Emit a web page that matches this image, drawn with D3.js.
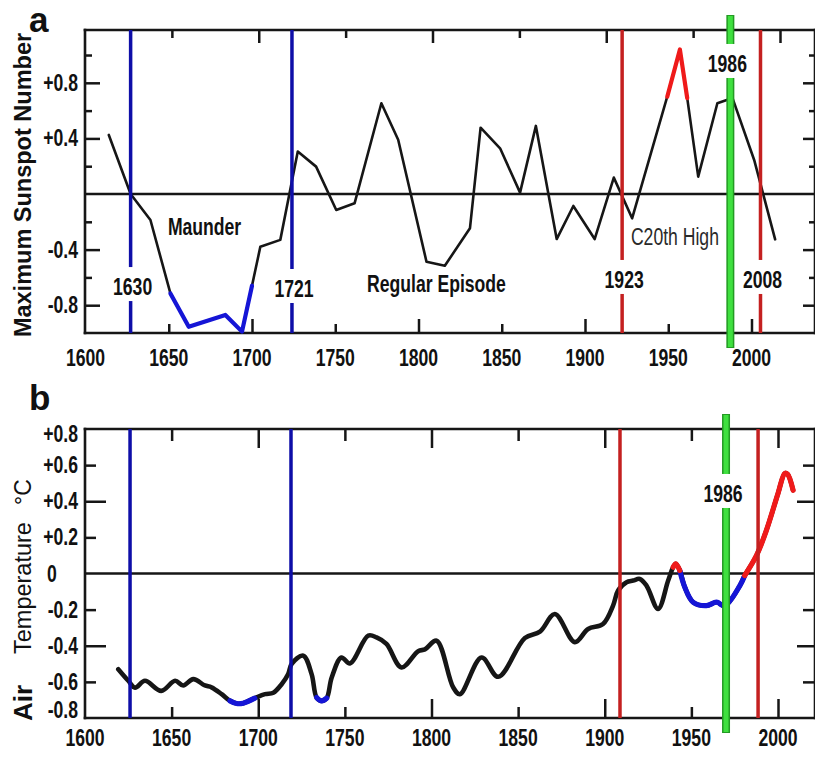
<!DOCTYPE html>
<html>
<head>
<meta charset="utf-8">
<script src="https://cdn.jsdelivr.net/npm/d3@7"></script>
<style>
  body { margin: 0; background: #fff; }
  svg { display: block; }
</style>
</head>
<body>
<svg id="chart" width="815" height="762"></svg>
<script>
// ---- panel a : maximum sunspot number (normalised) ----
const sunYears  = [1614, 1627.1, 1639, 1651, 1662, 1684, 1694, 1700, 1705, 1717, 1727.5, 1738.5, 1750.6, 1761.6,
                   1777.7, 1787.8, 1804.8, 1815.8, 1830.9, 1837.3, 1849, 1861, 1870.5, 1883, 1893, 1905.8,
                   1917.3, 1928.3, 1949.4, 1957, 1961.4, 1968, 1979.5, 1988.6, 2001.6, 2014.2];
const sunValues = [0.425, 0.0, -0.187, -0.715, -0.955, -0.87, -0.99, -0.66, -0.38, -0.33, 0.305, 0.197, -0.115, -0.067,
                   0.653, 0.39, -0.487, -0.516, -0.247, 0.477, 0.329, 0.01, 0.49, -0.324, -0.086, -0.324,
                   0.118, -0.175, 0.70, 1.04, 0.69, 0.125, 0.653, 0.69, 0.245, -0.326];
const sunBlue = [[1651, 1700]];
const sunRed  = [[1949.4, 1961.4]];

// ---- panel b : air temperature anomaly ----
const tempYears  = [1619.2, 1625, 1628.9, 1634.6, 1644, 1652, 1656.7, 1662.5, 1669.2, 1673, 1678.9, 1683.7,
                    1687.5, 1691.3, 1698, 1703.9, 1708.7, 1713.5, 1717.3, 1719.3, 1726, 1730.8, 1733.7, 1736.6,
                    1739.5, 1742.4, 1748, 1752.9, 1763.5, 1768.3, 1774, 1782.7, 1792.3, 1796.2, 1802.9, 1812.5,
                    1816.4, 1828.9, 1838.5, 1853.9, 1862.6, 1871.2, 1882.7, 1890.4, 1899, 1904.8, 1907.7, 1912.6,
                    1916.4, 1920.2, 1924.1, 1930.8, 1936.6, 1939.5, 1941, 1943.3, 1946.2, 1951, 1958.7, 1964.5,
                    1969.3, 1978, 1980.8, 1987.6, 1993.3, 2000, 2003.9, 2005.5, 2008.7];
const tempValues = [-0.53, -0.594, -0.632, -0.594, -0.65, -0.594, -0.62, -0.585, -0.62, -0.63, -0.668, -0.705,
                    -0.72, -0.718, -0.69, -0.668, -0.66, -0.613, -0.557, -0.50, -0.455, -0.557, -0.687, -0.705,
                    -0.69, -0.576, -0.465, -0.498, -0.344, -0.354, -0.39, -0.52, -0.43, -0.42, -0.372, -0.63,
                    -0.668, -0.465, -0.572, -0.357, -0.322, -0.224, -0.38, -0.307, -0.28, -0.178, -0.094, -0.048,
                    -0.039, -0.03, -0.067, -0.196, -0.039, 0.035, 0.054, 0.017, -0.076, -0.159, -0.178, -0.159,
                    -0.178, -0.067, -0.011, 0.10, 0.239, 0.443, 0.554, 0.55, 0.461];
const tempBlue = [[1683.7, 1698], [1733.7, 1739.5], [1943.3, 1980.8]];
const tempRed  = [[1939.5, 1943.3], [1980.8, 2008.7]];

// ---- marker lines (year positions as drawn in each panel) ----
const markerLabels = ["1630", "1721", "1923", "2008", "1986"];
const markerKinds  = ["blue", "blue", "red", "red", "green"];
const markerYearsA = [1627.1, 1724, 1922.3, 2005.4, 1987.3];
const markerYearsB = [1626, 1718.9, 1908.8, 1988.5, 1970];
const markerLabelA = [-0.727, -0.741, -0.676, -0.676, 0.878];   // baseline value of the label
const markerLabelB = [null, null, null, null, 0.396];

// ---- ticks ----
const xTickYears = [1600, 1650, 1700, 1750, 1800, 1850, 1900, 1950, 2000];
const xMajor = [1700, 1800, 1900, 2000];
const xMinor = [1650, 1750, 1850, 1950];
const yMajorA = [0.8, 0.4, -0.4, -0.8];
const yMajorLabelsA = ["+0.8", "+0.4", "-0.4", "-0.8"];
const yMinorA = [1.0, 0.6, 0.2, -0.2, -0.6];
const yTicksB = [0.8, 0.6, 0.4, 0.2, 0, -0.2, -0.4, -0.6, -0.8];
const yTickLabelsB = ["+0.8", "+0.6", "+0.4", "+0.2", "0", "-0.2", "-0.4", "-0.6", "-0.8"];
const yMajorB = [0.4, -0.4];
const yMinorB = [0.6, 0.2, -0.2, -0.6];

// ---- text annotations in panel a ----
const notesText  = ["Maunder", "Regular Episode", "C20th High"];
const notesYear  = [1671.5, 1810.8, 1954];
const notesValue = [-0.295, -0.705, -0.367];

const colors = {
  blue: "#0e0ea8", blueCurve: "#1515d6",
  red: "#c42020", redCurve: "#ef1a1a",
  green: "#3fe03f", greenEdge: "#239a23",
  ink: "#161616"
};
const sans = "'Liberation Sans', Arial, Helvetica, sans-serif";
const RIGHT = 815;

const svg = d3.select("#chart");

// scales
const xA = d3.scaleLinear().domain([1600, 2000]).range([85.5, 751.5]);
const xAtop = d3.scaleLinear().domain([1600, 2000]).range([85, 780]);
const yA = d3.scaleLinear().domain([-1, 1.18]).range([333, 30]);
const xB = d3.scaleLinear().domain([1600, 2000]).range([85, 778]);
const yB = d3.scaleLinear().domain([-0.8, 0.8]).range([718, 429]);

// condensed look: Liberation Sans squeezed sideways and a little taller
function narrowText(g, x, y, txt, anchor, size, weight) {
  return g.append("text")
    .attr("transform", `translate(${x},${y}) scale(0.8,1.12)`)
    .attr("text-anchor", anchor || "middle")
    .attr("font-family", sans)
    .attr("font-size", size || 21)
    .attr("font-weight", weight || "bold")
    .attr("fill", "#111")
    .text(txt);
}

function tickMarks(g, axisFn, scale, values, size, tx, ty) {
  g.append("g")
    .attr("transform", `translate(${tx},${ty})`)
    .call(axisFn(scale).tickValues(values).tickSize(size).tickFormat(""))
    .call(a => a.select(".domain").remove())
    .selectAll("line")
    .attr("stroke", colors.ink)
    .attr("stroke-width", 2.5);
}

function frame(g, x0, y0, y1) {
  const lines = [[x0, y0, RIGHT, y0], [x0, y1, RIGHT, y1], [x0, y0, x0, y1], [RIGHT, y0, RIGHT, y1]];
  g.selectAll("line.frame").data(lines).join("line")
    .attr("class", "frame")
    .attr("x1", d => d[0]).attr("y1", d => d[1])
    .attr("x2", d => d[2]).attr("y2", d => d[3])
    .attr("stroke", colors.ink).attr("stroke-width", 2.6)
    .attr("stroke-linecap", "square");
}

function seriesPaths(g, years, values, x, y, curve, width, wide, blue, red) {
  const pts = years.map((yr, i) => ({ year: yr, value: values[i] }));
  const line = d3.line().x(d => x(d.year)).y(d => y(d.value)).curve(curve);
  g.append("path").datum(pts)
    .attr("fill", "none").attr("stroke", colors.ink)
    .attr("stroke-width", width)
    .attr("stroke-linejoin", "round").attr("stroke-linecap", "round")
    .attr("d", line);
  const segs = blue.map(s => [s, colors.blueCurve]).concat(red.map(s => [s, colors.redCurve]));
  segs.forEach(([s, c]) => {
    const sub = pts.filter(d => d.year >= s[0] - 1e-6 && d.year <= s[1] + 1e-6);
    g.append("path").datum(sub)
      .attr("fill", "none").attr("stroke", c)
      .attr("stroke-width", wide)
      .attr("stroke-linejoin", "round").attr("stroke-linecap", "round")
      .attr("d", line);
  });
}

function markers(g, years, labelVals, x, y, y0, y1) {
  years.forEach((yr, i) => {
    const px = x(yr);
    const kind = markerKinds[i];
    if (kind === "green") {
      g.append("line").attr("x1", px).attr("x2", px).attr("y1", y0 - 15).attr("y2", y1 + 15)
        .attr("stroke", colors.greenEdge).attr("stroke-width", 8);
      g.append("line").attr("x1", px).attr("x2", px).attr("y1", y0 - 14).attr("y2", y1 + 14)
        .attr("stroke", colors.green).attr("stroke-width", 5);
    } else {
      g.append("line").attr("x1", px).attr("x2", px).attr("y1", y0).attr("y2", y1)
        .attr("stroke", kind === "blue" ? colors.blue : colors.red).attr("stroke-width", 3.5);
    }
  });
  years.forEach((yr, i) => {
    if (labelVals[i] === null) return;
    const px = x(yr) + (markerKinds[i] === "green" ? -3 : 2);
    const base = y(labelVals[i]);
    const t = narrowText(g, px, base, markerLabels[i], "middle", 22);
    const w = t.node().getComputedTextLength() * 0.8;
    g.insert("rect", "text")
      .attr("x", px - w / 2 - 3).attr("y", base - 28)
      .attr("width", w + 6).attr("height", 34)
      .attr("fill", "#fff");
  });
}

// ================= panel a =================
const gA = svg.append("g");
gA.append("line").attr("x1", 85).attr("x2", RIGHT).attr("y1", yA(0)).attr("y2", yA(0))
  .attr("stroke", colors.ink).attr("stroke-width", 2.6);
frame(gA, 85, 30, 333);
tickMarks(gA, d3.axisBottom, xAtop, xMajor, 13, 0, 30);
tickMarks(gA, d3.axisBottom, xAtop, xMinor, 8, 0, 30);
tickMarks(gA, d3.axisTop, xA, xMajor, 14, 0, 333);
tickMarks(gA, d3.axisTop, xA, xMinor, 9, 0, 333);
tickMarks(gA, d3.axisRight, yA, yMajorA, 15, 85, 0);
tickMarks(gA, d3.axisRight, yA, yMinorA, 7, 85, 0);
tickMarks(gA, d3.axisLeft, yA, yMajorA, 12, RIGHT, 0);
tickMarks(gA, d3.axisLeft, yA, yMinorA, 6, RIGHT, 0);

seriesPaths(gA, sunYears, sunValues, xA, yA, d3.curveLinear, 2.6, 4.2, sunBlue, sunRed);

const gAnotes = svg.append("g");
notesText.forEach((t, i) => {
  narrowText(gAnotes, xA(notesYear[i]), yA(notesValue[i]), t, "middle", 22, i === 2 ? 500 : "bold")
    .attr("fill", i === 2 ? "#2a2a2a" : "#111");
});

markers(svg.append("g"), markerYearsA, markerLabelA, xA, yA, 30, 333);

const gAlab = svg.append("g");
xTickYears.forEach(t => narrowText(gAlab, xA(t), 366, String(t), "middle", 22));
yMajorA.forEach((v, i) => narrowText(gAlab, 78, yA(v) + 8, yMajorLabelsA[i], "end", 22));
gAlab.append("text")
  .attr("transform", "translate(31,185) rotate(-90)")
  .attr("text-anchor", "middle")
  .attr("font-family", sans).attr("font-weight", "bold").attr("font-size", 23.5)
  .attr("fill", "#111")
  .text("Maximum Sunspot Number");
gAlab.append("text").attr("x", 29).attr("y", 32)
  .attr("font-family", sans).attr("font-weight", "bold").attr("font-size", 35)
  .attr("fill", "#111").text("a");

// ================= panel b =================
const gB = svg.append("g");
gB.append("line").attr("x1", 85).attr("x2", RIGHT).attr("y1", yB(0)).attr("y2", yB(0))
  .attr("stroke", colors.ink).attr("stroke-width", 2.6);
frame(gB, 85, 429, 718);
tickMarks(gB, d3.axisBottom, xB, xMajor, 19, 0, 429);
tickMarks(gB, d3.axisBottom, xB, xMinor, 12, 0, 429);
tickMarks(gB, d3.axisTop, xB, xMajor, 19, 0, 718);
tickMarks(gB, d3.axisTop, xB, xMinor, 11, 0, 718);
tickMarks(gB, d3.axisRight, yB, yMajorB, 21, 85, 0);
tickMarks(gB, d3.axisRight, yB, yMinorB, 11, 85, 0);
tickMarks(gB, d3.axisLeft, yB, yMajorB, 18, RIGHT, 0);
tickMarks(gB, d3.axisLeft, yB, yMinorB, 12, RIGHT, 0);

seriesPaths(gB, tempYears, tempValues, xB, yB, d3.curveCatmullRom.alpha(0.5), 4.6, 5.2, tempBlue, tempRed);

markers(svg.append("g"), markerYearsB, markerLabelB, xB, yB, 429, 718);

const gBlab = svg.append("g");
xTickYears.forEach(t => narrowText(gBlab, xB(t), 746, String(t), "middle", 22));
yTicksB.forEach((v, i) => {
  const zero = v === 0;
  const cy = Math.min(Math.max(yB(v), 434), 710);
  narrowText(gBlab, zero ? 52 : 78, cy + 8, yTickLabelsB[i], zero ? "middle" : "end", 22);
});
gBlab.append("text")
  .attr("transform", "translate(32,721) rotate(-90)")
  .attr("font-family", sans).attr("font-weight", "bold").attr("font-size", 26)
  .attr("fill", "#111").text("Air");
gBlab.append("text")
  .attr("transform", "translate(31,654) rotate(-90)")
  .attr("font-family", sans).attr("font-size", 23.5)
  .attr("fill", "#111").text("Temperature");
gBlab.append("text")
  .attr("transform", "translate(31,505) rotate(-90)")
  .attr("font-family", sans).attr("font-size", 23)
  .attr("fill", "#111").text("°C");
gBlab.append("text").attr("x", 29).attr("y", 410)
  .attr("font-family", sans).attr("font-weight", "bold").attr("font-size", 35)
  .attr("fill", "#111").text("b");
</script>
</body>
</html>
